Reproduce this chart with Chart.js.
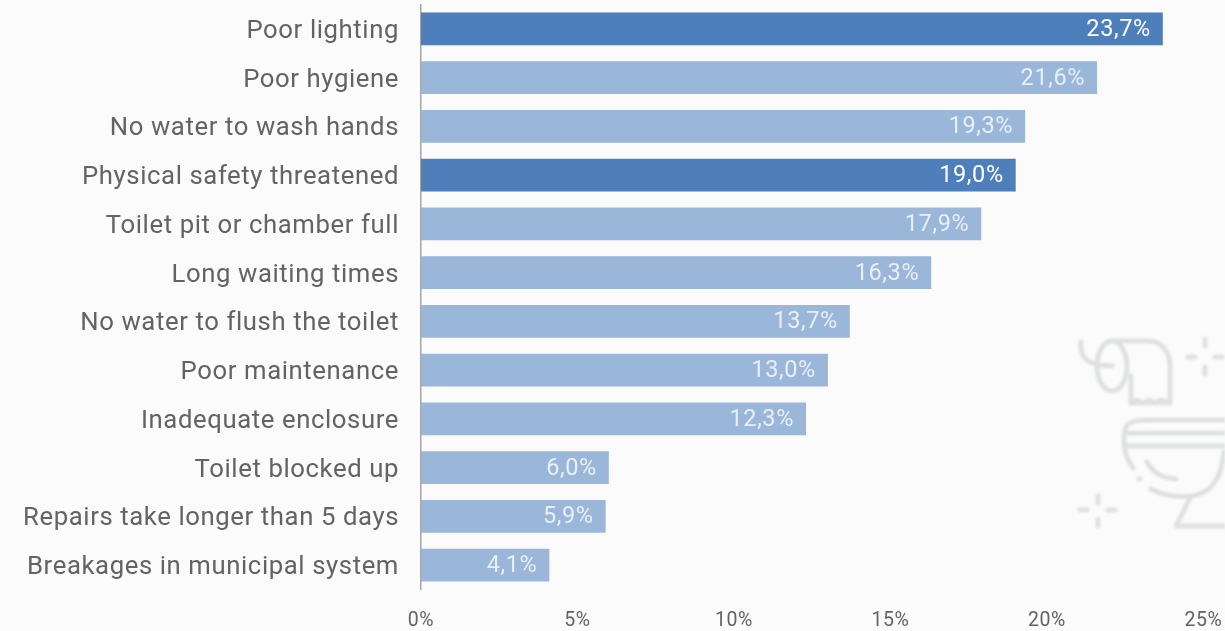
<!DOCTYPE html>
<html>
<head>
<meta charset="utf-8">
<title>Toilet problems</title>
<script src="https://cdn.jsdelivr.net/npm/chart.js@4"></script>
<style>
    html, body { margin: 0; padding: 0; background: #fbfbfb; overflow: hidden; }
    #wrap { position: relative; width: 1225px; height: 631px; }
    #chart { position: absolute; left: 0; top: 0; }
    #icon { position: absolute; left: 0; top: 0; filter: blur(0.9px); }
</style>
</head>
<body>
<div id="wrap">
    <!-- toilet roll and bowl behind the chart -->
    <svg id="icon" width="1225" height="631" fill="none" stroke="#dfe1e1" stroke-width="5" stroke-linecap="round" stroke-linejoin="round">
        <path d="M1081 342 C1079 358 1088 366 1112 366"/>
        <ellipse cx="1112" cy="366" rx="15" ry="25"/>
        <path d="M1110 341 H1148 C1162 341 1170 352 1170 366 V403 H1131 V376"/>
        <path d="M1131 403 l6 -3 l6 3 l6 -3 l6 3 l6 -3 l9 3"/>
        <path d="M1205 339 v7 M1205 367 v7 M1188 357 h7 M1215 357 h7"/>
        <path d="M1098 496 v7 M1098 519 v7 M1080 510 h7 M1108 510 h7"/>
        <path d="M1150 420 C1128 420 1124 424 1124 438 C1124 454 1128 460 1133 468"/>
        <path d="M1150 420 H1225 M1125 433 H1225 M1125 446 H1225"/>
        <path d="M1147 462 C1154 474 1162 478 1176 479"/>
        <path d="M1139 479 h1"/>
        <path d="M1151 489 C1168 498 1190 499 1204 492 C1216 486 1222 470 1224 452"/>
        <path d="M1190 498 L1176 526 H1225"/>
    </svg>
    <canvas id="chart" width="1225" height="631"></canvas>
</div>
<script>
const categories = [
    'Poor lighting', 'Poor hygiene', 'No water to wash hands', 'Physical safety threatened',
    'Toilet pit or chamber full', 'Long waiting times', 'No water to flush the toilet',
    'Poor maintenance', 'Inadequate enclosure', 'Toilet blocked up',
    'Repairs take longer than 5 days', 'Breakages in municipal system'
];
const values = [23.7, 21.6, 19.3, 19.0, 17.9, 16.3, 13.7, 13.0, 12.3, 6.0, 5.9, 4.1];
const highlighted = ['Poor lighting', 'Physical safety threatened'];
const xTicks = [0, 5, 10, 15, 20, 25];

const darkBlue = '#4f7fbb';
const lightBlue = '#9ab6d9';
const textGrey = '#636363';

// comma decimals, like the original
const valueLabels = values.map((v) => v.toFixed(1).replace('.', ',') + '%');

const barLabels = {
    id: 'barLabels',
    beforeDraw(chart) {
        // original text is tracked out a little
        chart.ctx.letterSpacing = '0.6px';
    },
    afterDatasetsDraw(chart) {
        const ctx = chart.ctx;
        ctx.save();
        ctx.font = '23.5px Roboto';
        ctx.textAlign = 'right';
        ctx.textBaseline = 'middle';
        chart.getDatasetMeta(0).data.forEach((bar, i) => {
            ctx.fillStyle = highlighted.includes(categories[i]) ? '#ffffff' : '#e8eff8';
            ctx.fillText(valueLabels[i], bar.x - 12, bar.y + 1);
        });
        ctx.restore();
    }
};

// the labels would otherwise push the plot area in from the canvas edges
function dropPadding(scale) {
    scale.paddingTop = 0;
    scale.paddingBottom = 0;
    scale.paddingLeft = 0;
    scale.paddingRight = 0;
}

new Chart(document.getElementById('chart'), {
    type: 'bar',
    data: {
        labels: categories,
        datasets: [{
            data: values,
            backgroundColor: categories.map((c) => highlighted.includes(c) ? darkBlue : lightBlue),
            borderWidth: 0,
            categoryPercentage: 0.67,
            barPercentage: 1
        }]
    },
    options: {
        indexAxis: 'y',
        responsive: false,
        animation: false,
        devicePixelRatio: 1,
        layout: { padding: { left: 0, top: 4.5, right: 21.5, bottom: 0 } },
        plugins: {
            legend: { display: false },
            tooltip: { enabled: false }
        },
        scales: {
            x: {
                min: 0,
                max: 25,
                afterFit(scale) { scale.height = 41.5; dropPadding(scale); },
                afterBuildTicks(scale) { scale.ticks = xTicks.map((value) => ({ value })); },
                grid: { display: false, drawTicks: false },
                border: { display: false },
                ticks: {
                    color: textGrey,
                    font: { family: 'Roboto', size: 19.5 },
                    padding: 20,
                    maxRotation: 0,
                    callback: (v) => v + '%'
                }
            },
            y: {
                afterFit(scale) { scale.width = 421; dropPadding(scale); },
                grid: { display: false, drawTicks: false },
                border: { display: true, color: '#a6a6a6', width: 1.5 },
                ticks: {
                    color: textGrey,
                    font: { family: 'Roboto', size: 25.7 },
                    padding: 22,
                    labelOffset: 2.5,
                    autoSkip: false
                }
            }
        }
    },
    plugins: [barLabels]
});
</script>
</body>
</html>
